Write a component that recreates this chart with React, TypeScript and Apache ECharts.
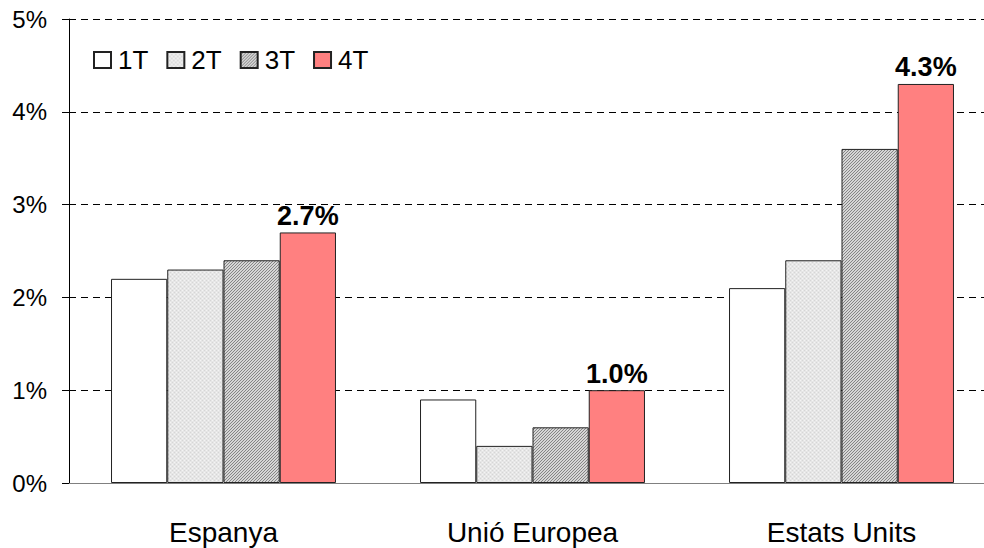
import React, { useEffect, useRef } from "react";
import * as echarts from "echarts";

const categories = ["Espanya", "Unió Europea", "Estats Units"];
const seriesNames = ["1T", "2T", "3T", "4T"];
const q1 = [2.2, 0.9, 2.1];
const q2 = [2.3, 0.4, 2.4];
const q3 = [2.4, 0.6, 3.6];
const q4 = [2.7, 1.0, 4.3];
const yTicks = [0, 1, 2, 3, 4, 5];

function makeDots(): any {
  const c = document.createElement("canvas");
  c.width = 4;
  c.height = 4;
  const ctx = c.getContext("2d")!;
  ctx.fillStyle = "#e6e6e6";
  ctx.fillRect(0, 0, 4, 4);
  ctx.fillStyle = "#f4f4f4";
  ctx.fillRect(0, 0, 1, 1);
  ctx.fillRect(2, 2, 1, 1);
  ctx.fillStyle = "#d6d6d6";
  ctx.fillRect(2, 0, 1, 1);
  ctx.fillRect(0, 2, 1, 1);
  return { image: c, repeat: "repeat" };
}

function makeHatch(): any {
  const c = document.createElement("canvas");
  c.width = 3;
  c.height = 3;
  const ctx = c.getContext("2d")!;
  ctx.fillStyle = "#d6d6d6";
  ctx.fillRect(0, 0, 3, 3);
  ctx.fillStyle = "#858585";
  for (let i = 0; i < 3; i++) {
    ctx.fillRect(2 - i, i, 1, 1);
  }
  return { image: c, repeat: "repeat" };
}

export default function App() {
  const ref = useRef<HTMLDivElement>(null);
  useEffect(() => {
    const chart = echarts.init(ref.current!, undefined, { renderer: "svg" });
    const dots = makeDots();
    const hatch = makeHatch();
    const fills = ["#ffffff", dots, hatch, "#ff8080"];
    const dataSets = [q1, q2, q3, q4];
    const font = "Liberation Sans, Arial, sans-serif";
    chart.setOption({
      animation: false,
      backgroundColor: "#ffffff",
      textStyle: { fontFamily: font },
      legend: {
        left: 88,
        top: 42,
        itemWidth: 17,
        itemHeight: 16,
        itemGap: 18,
        icon: "rect",
        textStyle: { fontSize: 26, color: "#000", fontFamily: font, padding: [4, 0, 0, 2] },
        data: seriesNames,
      },
      grid: { left: 69, top: 19, right: 4, bottom: 65 },
      xAxis: {
        type: "category",
        data: categories,
        axisLine: { lineStyle: { color: "#808080", width: 1 } },
        axisTick: { show: false },
        axisLabel: { fontSize: 28, color: "#000", margin: 35, fontFamily: font },
      },
      yAxis: {
        type: "value",
        min: yTicks[0],
        max: yTicks[yTicks.length - 1],
        interval: 1,
        axisLine: { show: true, lineStyle: { color: "#000", width: 1 } },
        axisTick: { show: true, length: 7, lineStyle: { color: "#000" } },
        axisLabel: {
          fontSize: 24,
          color: "#000",
          margin: 22,
          fontFamily: font,
          formatter: (v: number) => v + "%",
        },
        splitLine: { show: true, lineStyle: { color: "#000", type: [7, 5], width: 1 } },
      },
      series: seriesNames.map((name, i) => ({
        name,
        type: "bar",
        data: dataSets[i],
        barGap: "0%",
        barCategoryGap: "27.2%",
        itemStyle: { color: fills[i], borderColor: "#222", borderWidth: 1 },
        label:
          i === 3
            ? {
                show: true,
                position: "top",
                distance: 3,
                fontSize: 27,
                fontWeight: "bold",
                color: "#000",
                fontFamily: font,
                formatter: (p: any) => p.value.toFixed(1) + "%",
              }
            : { show: false },
      })),
    });
    return () => chart.dispose();
  }, []);
  return (
    <div
      style={{ position: "fixed", left: 0, top: 0, width: 984, height: 548, overflow: "hidden", background: "#fff" }}
    >
      <div ref={ref} style={{ width: 1000, height: 548 }} />
    </div>
  );
}
